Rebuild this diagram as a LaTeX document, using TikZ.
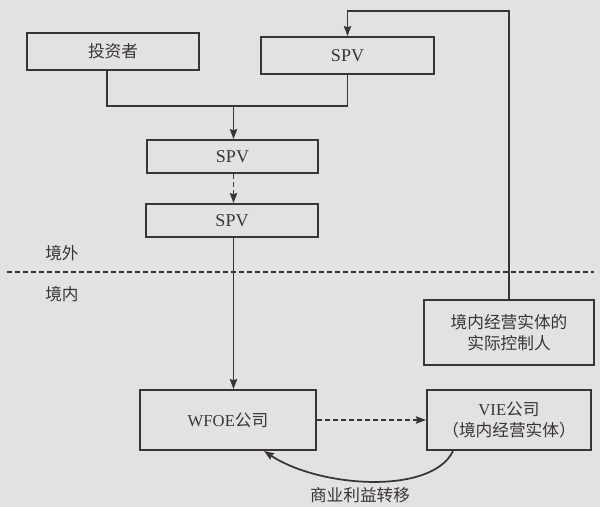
\documentclass[tikz,border=0pt]{standalone}
\usepackage{fontspec}
\setmainfont{Liberation Serif}
\newfontfamily\cjk{Noto Sans CJK SC}
\usetikzlibrary{arrows.meta}
\definecolor{paper}{HTML}{E2E2E0}
\definecolor{ink}{HTML}{3A3434}
\begin{document}
\begin{tikzpicture}[x=0.75pt,y=-0.75pt,
  every node/.style={font=\fontsize{12.5}{15}\selectfont, text=ink},
  box/.style={draw=ink, line width=1.5pt, inner sep=0pt, align=center},
  conn/.style={draw=ink, line width=1.3pt},
  tip/.style={-{Stealth[length=7.5pt,width=5.5pt,inset=1pt]}},
  dsh/.style={dash pattern=on 3.5pt off 2.5pt}]
\fill[paper] (0,0) rectangle (600,507);
\useasboundingbox (0,0) rectangle (600,507);
% boxes
\node[box, minimum width=129pt, minimum height=27.75pt] (inv) at (113,51.5) {\cjk 投资者};
\node[box, minimum width=129.75pt, minimum height=27.75pt] (spva) at (347.5,55.5) {\fontsize{13.5}{15}\selectfont SPV};
\node[box, minimum width=128.25pt, minimum height=24.75pt] (spvb) at (232.5,156.5) {\fontsize{13.5}{15}\selectfont SPV};
\node[box, minimum width=129pt, minimum height=24.75pt] (spvc) at (232,220.5) {\fontsize{13.5}{15}\selectfont SPV};
\node[box, minimum width=127.5pt, minimum height=48.75pt] (ctrl) at (509,332.5) {{\cjk 境内经营实体的}\\[1pt]{\cjk 实际控制人}};
\node[box, minimum width=132pt, minimum height=45pt] (wfoe) at (228,420) {WFOE{\cjk 公司}};
\node[box, minimum width=123pt, minimum height=45pt] (vie) at (509,420) {VIE{\cjk 公司}\\[1pt]{\cjk （境内经营实体）}};
% labels
\node (out) at (62,253) {\cjk 境外};
\node (in) at (62,294) {\cjk 境内};
\node (lbl) at (360,495) {\cjk 商业利益转移};
% border line
\coordinate (bl) at (7,272);
\coordinate (br) at (594,272);
\draw[conn, dsh] (bl) -- (br);
% connectors
\coordinate (jl) at (107,106);
\coordinate (jm) at (233.5,106);
\coordinate (jr) at (347.5,106);
\draw[conn] (inv.south -| jl) -- (jl) -- (jr) -- (spva.south -| jr);
\draw[conn, tip] (jm) -- (spvb.north -| jm);
\draw[conn, tip, dsh] (spvb.south -| jm) -- (spvc.north -| jm);
\draw[conn, tip] (spvc.south -| jm) -- (wfoe.north -| jm);
\coordinate (tr) at (509,11);
\coordinate (tl) at (347.5,11);
\draw[conn, tip] (ctrl.north) -- (tr) -- (tl) -- (spva.north -| tl);
\draw[conn, tip, dsh] (wfoe.east) -- (vie.west);
\draw[conn, tip] ([xshift=20.25pt]vie.south west) .. controls (432,495) and (320,488) .. ([xshift=27pt]wfoe.south);
\end{tikzpicture}
\end{document}
